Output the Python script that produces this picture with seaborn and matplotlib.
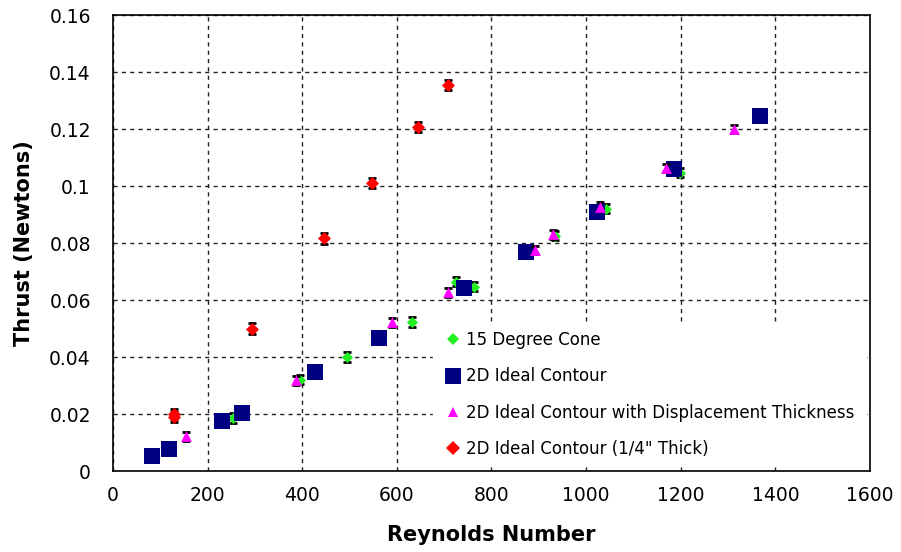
import matplotlib
matplotlib.use("Agg")
import matplotlib.pyplot as plt
from matplotlib.lines import Line2D
import seaborn as sns
import pandas as pd

# Measured thrust vs Reynolds number for four nozzle geometries
cone_re = [254, 396, 495, 633, 726, 764, 935, 1043, 1185, 1198]
cone_thrust = [0.0186, 0.0320, 0.0400, 0.0523, 0.0664, 0.0646, 0.0826, 0.0920, 0.1060, 0.1046]
cone_err = [0.0016] * len(cone_re)

ideal_re = [82, 118, 231, 273, 427, 563, 741, 872, 1022, 1185, 1367]
ideal_thrust = [0.0053, 0.0077, 0.0175, 0.0202, 0.0346, 0.0467, 0.0643, 0.0768, 0.0909, 0.1058, 0.1245]

disp_re = [154, 387, 590, 709, 891, 931, 1030, 1168, 1312]
disp_thrust = [0.0122, 0.0318, 0.0522, 0.0627, 0.0775, 0.0830, 0.0928, 0.1063, 0.1200]
disp_err = [0.0015] * len(disp_re)

thick_re = [128, 130, 294, 447, 548, 645, 709]
thick_thrust = [0.0200, 0.0190, 0.0500, 0.0816, 0.1010, 0.1208, 0.1355]
thick_err = [0.0018] * len(thick_re)

series_names = [
    "15 Degree Cone",
    "2D Ideal Contour",
    "2D Ideal Contour with Displacement Thickness",
    '2D Ideal Contour (1/4" Thick)',
]
colors = ["#22ee22", "#000080", "#ff00ff", "#ff0000"]
markers = ["D", "s", "^", "D"]
sizes = [32, 120, 60, 44]

x_ticks = [0, 200, 400, 600, 800, 1000, 1200, 1400, 1600]
y_ticks = [0, 0.02, 0.04, 0.06, 0.08, 0.1, 0.12, 0.14, 0.16]
y_tick_labels = ["0", "0.02", "0.04", "0.06", "0.08", "0.1", "0.12", "0.14", "0.16"]

sns.set_theme(style="white")
plt.rcParams["font.family"] = ["DejaVu Sans"]
plt.rcParams["text.color"] = "black"
plt.rcParams["axes.labelcolor"] = "black"

fig = plt.figure(figsize=(9.01, 5.52), dpi=100)
ax = fig.add_axes([0.1254, 0.1467, 0.8402, 0.8261])

data = [
    (cone_re, cone_thrust, cone_err),
    (ideal_re, ideal_thrust, None),
    (disp_re, disp_thrust, disp_err),
    (thick_re, thick_thrust, thick_err),
]

for i, ((xs, ys, err), name, c, m, s) in enumerate(
        zip(data, series_names, colors, markers, sizes)):
    z = 3 + 2 * i
    if err is not None:
        ax.errorbar(xs, ys, yerr=err, fmt="none", ecolor="black",
                    elinewidth=0.8, capsize=3.0, capthick=2.0, zorder=z)
    df = pd.DataFrame({"Reynolds": xs, "Thrust": ys})
    sns.scatterplot(data=df, x="Reynolds", y="Thrust", ax=ax, color=c,
                    marker=m, s=s, linewidth=0, zorder=z + 1, legend=False)

ax.set_xlim(0, 1600)
ax.set_ylim(0, 0.16)
ax.set_xticks(x_ticks)
ax.set_yticks(y_ticks)
ax.set_yticklabels(y_tick_labels)

ax.grid(True, which="major", color="#222222", linestyle=(0, (3, 3)),
        linewidth=1.0, zorder=0)
ax.set_axisbelow(True)
for sp in ax.spines.values():
    sp.set_color("black")
    sp.set_linewidth(1.2)
    sp.set_visible(True)

ax.tick_params(axis="both", which="major", direction="inout", length=10,
               width=1, color="black", labelsize=13.5, labelcolor="black")
ax.tick_params(axis="x", pad=6)
ax.tick_params(axis="y", pad=11)

ax.set_xlabel("Reynolds Number", fontsize=15, fontweight="bold", labelpad=14)
ax.set_ylabel("Thrust (Newtons)", fontsize=15, fontweight="bold", labelpad=11)

handles = [
    Line2D([0], [0], marker=m, color="none", markerfacecolor=c,
           markeredgewidth=0, markersize=(s ** 0.5))
    for c, m, s in zip(colors, markers, sizes)
]
leg = ax.legend(handles, series_names, loc="lower left",
                bbox_to_anchor=(0.423, 0.011, 0.572, 0.31), mode="expand",
                borderaxespad=0, frameon=True, fontsize=12.0,
                handlelength=1.35, handletextpad=0.1, labelspacing=1.09,
                borderpad=0.5, facecolor="white", edgecolor="white",
                framealpha=1.0, fancybox=False)
for t in leg.get_texts():
    t.set_color("black")
leg.set_zorder(20)

fig.savefig("out.png", dpi=100)
